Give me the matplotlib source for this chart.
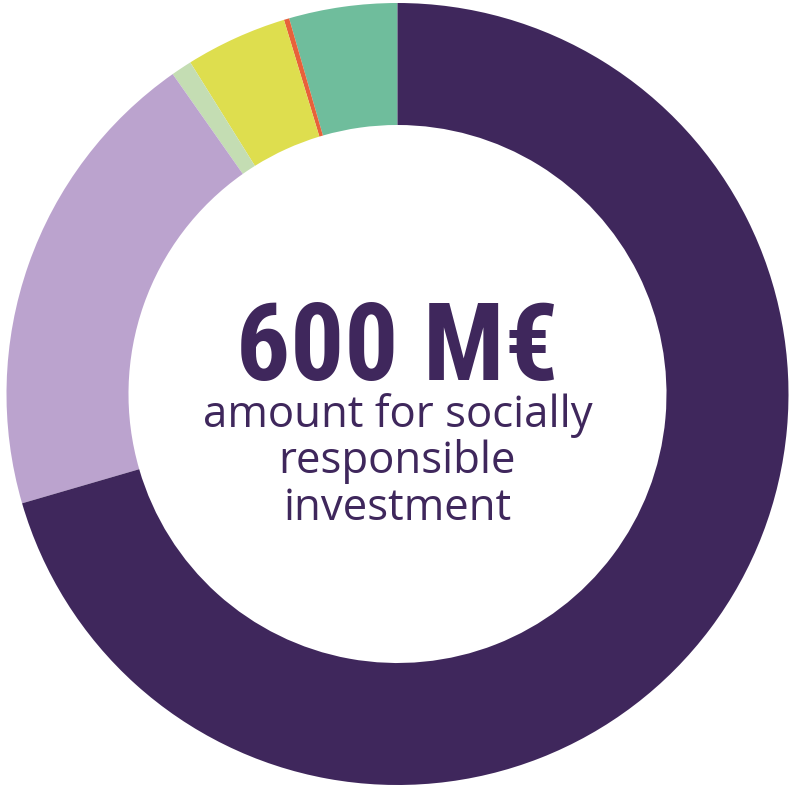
import matplotlib
matplotlib.use("Agg")
import matplotlib.pyplot as plt

# Data (share of the 600 M€, read counter-clockwise from 12 o'clock)
categories = ["Teal", "Orange", "Yellow", "Light green", "Lavender", "Dark purple"]
values = [4.47, 0.22, 4.20, 0.86, 19.76, 70.49]
colors = ["#6FBD9C", "#E8613A", "#DEDE4E", "#C4DDB3", "#BBA3CE", "#3F275C"]
headline = "600 M€"
subtitle_lines = ["amount for socially", "responsible", "investment"]

W, H = 792, 787
fig = plt.figure(figsize=(W / 100, H / 100), dpi=100)
ax = fig.add_axes([0, 0, 1, 1])

cx, cy, R = 397.5, H - 394, 391
ring = 0.312 * R
ax.pie(values, colors=colors, startangle=90, counterclock=True,
       center=(cx, cy), radius=R,
       wedgeprops=dict(width=ring, edgecolor="none", linewidth=0))

ax.set_xlim(0, W)
ax.set_ylim(0, H)
ax.set_aspect("auto")
ax.axis("off")

txt_color = "#3F275C"
ax.text(cx, H - 380, headline, ha="center", va="baseline",
        fontsize=77, fontweight="heavy", fontstretch="condensed", color=txt_color,
        family=["Roboto Condensed", "Liberation Sans Narrow", "DejaVu Sans"])

baselines = [427, 473, 520]
for line, b in zip(subtitle_lines, baselines):
    ax.text(cx, H - b, line, ha="center", va="baseline",
            fontsize=31.5, color=txt_color, family=["Open Sans", "DejaVu Sans"])

fig.savefig("out.png", dpi=100)
